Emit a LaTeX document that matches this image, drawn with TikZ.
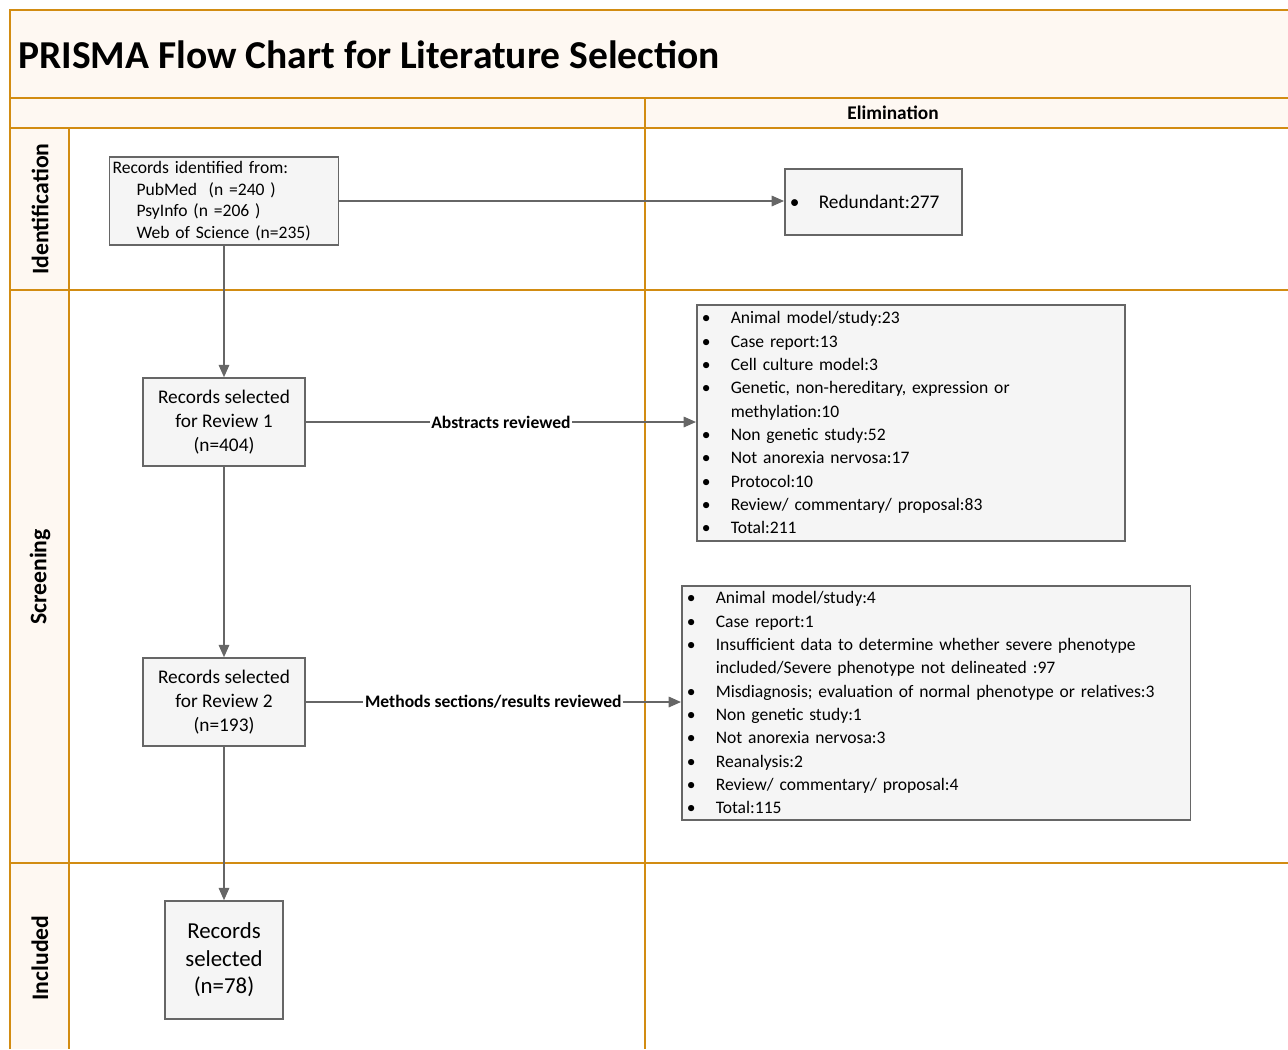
\documentclass[tikz,border=0pt]{standalone}
\usepackage{fontspec}
\setmainfont{Carlito}
\usepackage{tikz}
\usetikzlibrary{arrows.meta}

\definecolor{laneorange}{HTML}{D28C12}
\definecolor{lanefill}{HTML}{FEF8F2}
\definecolor{boxgray}{HTML}{666666}
\definecolor{boxfill}{HTML}{F5F5F5}

\newcommand{\bitem}[1]{\hangindent=0.58cm\hangafter=1\noindent\makebox[0.58cm][l]{\textbullet}#1\par}

\tikzset{
  lanerule/.style={draw=laneorange, line width=1.2pt},
  lanelabel/.style={rotate=90, font=\fontsize{13.5}{16}\selectfont\bfseries},
  recbox/.style={draw=boxgray, fill=boxfill, line width=0.9pt, align=center, inner sep=2pt},
  elimbox/.style={draw=boxgray, fill=boxfill, line width=0.9pt, anchor=north west, align=left,
    inner xsep=0.1cm, inner ysep=0pt, font=\fontsize{10}{13.3}\selectfont},
  flowarrow/.style={draw=boxgray, line width=0.8pt, -{Triangle[length=7pt,width=6pt]}},
  edgelabel/.style={fill=white, inner sep=1pt, font=\fontsize{10}{12}\selectfont\bfseries}
}

\begin{document}
\begin{tikzpicture}[x=0.02cm, y=-0.02cm]
  \useasboundingbox (0,0) rectangle (1288,1049);
%%%%%%%%%%%%%%%%%%%%%%%%%%%%%%%%%%%%%%%%%%%%%%%%%%%%%%%%%%%%%%%%%%%%%%%
      \fill[lanefill] (10,10) rectangle (1288,128);
      \fill[lanefill] (10,128) rectangle (69,1049);
      \draw[lanerule] (10,1049) -- (10,10) -- (1288,10);
      \draw[lanerule] (10,98) -- (1288,98);
      \draw[lanerule] (10,128) -- (1288,128);
      \draw[lanerule] (10,290) -- (1288,290);
      \draw[lanerule] (10,863) -- (1288,863);
      \draw[lanerule] (69,128) -- (69,1049);
      \draw[lanerule] (645,98) -- (645,1049);
      \draw (18,55) node[anchor=west, inner sep=0pt, font=\fontsize{22.5}{26}\selectfont\bfseries] (title) {PRISMA Flow Chart for Literature Selection};
      \draw (893,113) node[font=\fontsize{11}{13}\selectfont\bfseries] (elim) {Elimination};
      \draw (40,209) node[lanelabel] (ident) {Identification};
      \draw (40,577) node[lanelabel] (screen) {Screening};
      \draw (40,958) node[lanelabel] (incl) {Included};
%%%%%%%%%%%%%%%%%%%%%%%%%%%%%%%%%%%%%%%%%%%%%%%%%%%%%%%%%%%%%%%%%%%%%%%
      \draw (224,201) node[recbox, minimum height=1.76cm, text width=4.46cm, align=left, inner xsep=0.06cm,
        font=\fontsize{10}{12.2}\selectfont] (records) {Records identified from:\\
        \hspace*{0.48cm}PubMed~ (n =240 )\\
        \hspace*{0.48cm}PsyInfo (n =206 )\\
        \hspace*{0.48cm}Web of Science (n=235)};
  \draw (784,202) node[recbox, anchor=west, text width=3.34cm, align=left, inner xsep=0.1cm, minimum height=1.32cm,
        font=\fontsize{11}{13}\selectfont] (redundant) {\makebox[0.58cm][l]{\textbullet}Redundant:277};
      \draw (224,422) node[recbox, minimum width=3.24cm, minimum height=1.76cm, font=\fontsize{11}{13.6}\selectfont] (review1) {Records selected\\for Review 1\\(n=404)};
      \draw (224,702) node[recbox, minimum width=3.24cm, minimum height=1.76cm, font=\fontsize{11}{13.6}\selectfont] (review2) {Records selected\\for Review 2\\(n=193)};
      \draw (224,960) node[recbox, minimum width=2.36cm, minimum height=2.36cm, font=\fontsize{13}{15.6}\selectfont] (final) {Records\\selected\\(n=78)};
%%%%%%%%%%%%%%%%%%%%%%%%%%%%%%%%%%%%%%%%%%%%%%%%%%%%%%%%%%%%%%%%%%%%%%%
      \draw (696,304) node[elimbox, text width=8.36cm, minimum height=4.72cm] (elim1) {%
        \bitem{Animal model/study:23}
        \bitem{Case report:13}
        \bitem{Cell culture model:3}
        \bitem{Genetic, non-hereditary, expression or\newline methylation:10}
        \bitem{Non genetic study:52}
        \bitem{Not anorexia nervosa:17}
        \bitem{Protocol:10}
        \bitem{Review/ commentary/ proposal:83}
        \bitem{Total:211}};
      \draw (681,585) node[elimbox, text width=9.98cm, minimum height=4.68cm] (elim2) {%
        \bitem{Animal model/study:4}
        \bitem{Case report:1}
        \bitem{Insufficient data to determine whether severe phenotype\newline included/Severe phenotype not delineated :97}
        \bitem{Misdiagnosis; evaluation of normal phenotype or relatives:3}
        \bitem{Non genetic study:1}
        \bitem{Not anorexia nervosa:3}
        \bitem{Reanalysis:2}
        \bitem{Review/ commentary/ proposal:4}
        \bitem{Total:115}};
%%%%%%%%%%%%%%%%%%%%%%%%%%%%%%%%%%%%%%%%%%%%%%%%%%%%%%%%%%%%%%%%%%%%%%%
      \draw[flowarrow] (records) -- (review1);
      \draw[flowarrow] (review1) -- (review2);
      \draw[flowarrow] (review2) -- (final);
      \draw[flowarrow] (records.east) -- (records.east -| redundant.west);
      \draw[flowarrow] (review1.east) -- node[edgelabel] (abstr) {Abstracts reviewed} (review1.east -| elim1.west);
      \draw[flowarrow] (review2.east) -- node[edgelabel] (methods) {Methods sections/results reviewed} (review2.east -| elim2.west);
\end{tikzpicture}
\end{document}
